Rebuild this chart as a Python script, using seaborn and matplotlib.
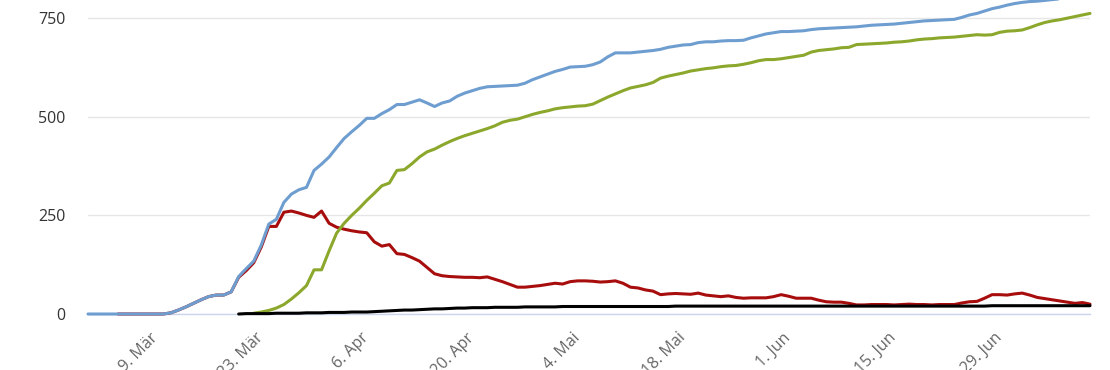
import pandas as pd
import numpy as np
import matplotlib
matplotlib.use("Agg")
import matplotlib.pyplot as plt
import seaborn as sns

# Tagesdaten ab 29. Feb 2020
start = "2020-02-29"

faelle = [
    0, 0, 0, 0, 0, 0, 0, 0, 0, 0,
    0, 3, 10, 18, 27, 36, 44, 48, 48, 56,
    95, 115, 134, 175, 228, 240, 283, 304, 315, 321,
    364, 380, 398, 422, 445, 462, 478, 496, 496, 508,
    518, 531, 531, 537, 543, 535, 526, 535, 540, 552,
    560, 566, 572, 576, 577, 578, 579, 580, 585, 594,
    601, 608, 615, 620, 626, 627, 628, 632, 639, 652,
    662, 662, 662, 664, 666, 668, 671, 676, 679, 682,
    683, 688, 690, 690, 692, 693, 693, 694, 700, 705,
    710, 713, 716, 716, 717, 718, 721, 723, 724, 725,
    726, 727, 728, 730, 732, 733, 734, 735, 737, 739,
    741, 743, 744, 745, 746, 747, 752, 758, 762, 768,
    774, 778, 783, 787, 790, 792, 793, 795, 797, 799,
    801, 804, 808, 812,
]

genesen = [None] * 22 + [
    2, 5, 9, 15, 24, 38, 54, 72,
    112, 112, 160, 205, 230, 250, 268, 288, 306, 325,
    332, 364, 366, 381, 398, 411, 418, 428, 437, 445,
    452, 458, 464, 470, 477, 486, 491, 494, 500, 506,
    511, 515, 520, 523, 525, 527, 528, 532, 541, 550,
    558, 566, 573, 577, 581, 587, 598, 603, 607, 611,
    616, 619, 622, 624, 627, 629, 630, 633, 637, 642,
    645, 645, 647, 650, 653, 656, 664, 668, 670, 672,
    675, 676, 683, 684, 685, 686, 687, 689, 690, 692,
    695, 697, 698, 700, 701, 702, 704, 706, 708, 707,
    708, 714, 717, 718, 720, 726, 733, 739, 743, 746,
    750, 754, 758, 762,
]

aktiv = [None] * 4 + [
    0, 0, 0, 0, 0, 0,
    0, 3, 10, 18, 27, 36, 44, 48, 48, 56,
    93, 110, 130, 170, 222, 222, 258, 261, 256, 250,
    245, 261, 230, 220, 215, 211, 208, 206, 183, 172,
    176, 153, 151, 143, 134, 118, 102, 97, 95, 94,
    93, 93, 92, 94, 88, 82, 75, 68, 68, 70,
    72, 75, 78, 76, 82, 84, 84, 83, 81, 82,
    84, 78, 68, 66, 61, 58, 49, 51, 52, 51,
    50, 53, 48, 46, 44, 46, 42, 40, 41, 41,
    41, 44, 49, 45, 40, 40, 40, 35, 31, 30,
    30, 27, 23, 23, 24, 24, 24, 23, 24, 25,
    24, 24, 23, 24, 24, 24, 28, 31, 32, 40,
    49, 49, 48, 51, 53, 48, 42, 39, 36, 33,
    30, 27, 29, 25,
]

verstorben = [None] * 20 + [
    0, 1, 1, 1, 1, 2, 2, 2, 2, 3,
    3, 3, 4, 4, 4, 5, 5, 5, 6, 7,
    8, 9, 10, 10, 11, 12, 13, 13, 14, 15,
    15, 16, 16, 16, 17, 17, 17, 17, 18, 18,
    18, 18, 18, 19, 19, 19, 19, 19, 19, 19,
    19, 19, 19, 19, 19, 19, 19, 19, 20, 20,
] + [20] * 40 + [21] * 14

tick_tage = ["2020-03-09", "2020-03-23", "2020-04-06", "2020-04-20", "2020-05-04",
             "2020-05-18", "2020-06-01", "2020-06-15", "2020-06-29"]
tick_labels = ["9. Mär", "23. Mär", "6. Apr", "20. Apr", "4. Mai",
               "18. Mai", "1. Jun", "15. Jun", "29. Jun"]
y_ticks = [0, 250, 500, 750]

datum = pd.date_range(start, periods=len(faelle), freq="D")
df = pd.DataFrame({
    "datum": datum,
    "faelle": np.array(faelle, dtype=float),
    "genesen": np.array(genesen, dtype=float),
    "aktiv": np.array(aktiv, dtype=float),
    "verstorben": np.array(verstorben, dtype=float),
})

sns.set_style("white")
plt.rcParams["font.family"] = ["Open Sans", "DejaVu Sans"]

fig = plt.figure(figsize=(11.1, 3.7), dpi=100)
ax = fig.add_axes([88 / 1110, 56 / 370, 1002 / 1110, 314 / 370])

farben = {"aktiv": "#a80d0d", "faelle": "#6e9dd0", "genesen": "#8ba82c", "verstorben": "#000000"}
for spalte in ["aktiv", "faelle", "genesen", "verstorben"]:
    sns.lineplot(data=df, x="datum", y=spalte, ax=ax, color=farben[spalte],
                 linewidth=2.2, clip_on=False, zorder=3)

ax.set_xlim(datum[0], datum[-1])
ax.set_ylim(0, 796)
ax.set_xlabel("")
ax.set_ylabel("")

ax.set_yticks(y_ticks)
ax.set_yticklabels([str(v) for v in y_ticks], fontsize=11.5, color="#333333")
ax.tick_params(axis="y", length=0, pad=16)
ax.yaxis.grid(True, color="#e6e6e6", linewidth=1)
ax.xaxis.grid(False)

ax.set_xticks(pd.to_datetime(tick_tage))
ax.set_xticklabels(tick_labels, rotation=45, ha="right", va="center",
                   rotation_mode="anchor", fontsize=11.5, color="#666666")
ax.tick_params(axis="x", length=9.5, width=1, color="#ccd6eb", pad=6)

for s in ["top", "right", "left"]:
    ax.spines[s].set_visible(False)
ax.spines["bottom"].set_color("#ccd6eb")
ax.spines["bottom"].set_linewidth(1)
ax.set_axisbelow(True)

fig.savefig("out.png", dpi=100)
